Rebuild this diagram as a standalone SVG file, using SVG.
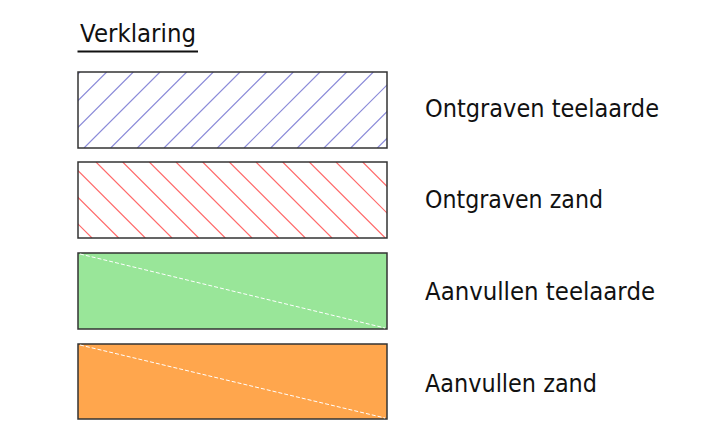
<svg xmlns="http://www.w3.org/2000/svg" width="724" height="446" viewBox="0 0 724 446">
<style>
.box{stroke:#333;stroke-width:1.5}
.lbl{font-family:"DejaVu Sans",sans-serif;font-size:25px;fill:#111}
.diag{stroke:#fff;stroke-width:1;stroke-dasharray:4 2}
</style>
<defs>
<clipPath id="c1"><rect x="78" y="72" width="309" height="76"/></clipPath>
<clipPath id="c2"><rect x="78" y="162" width="309" height="76"/></clipPath>
</defs>
<rect width="724" height="446" fill="#fff"/>
<g id="title">
<text x="80" y="41.7" class="lbl" font-size="23" textLength="116" lengthAdjust="spacingAndGlyphs">Verklaring</text>
<line x1="77.5" y1="51.5" x2="198" y2="51.5" stroke="#111" stroke-width="2"/>
</g>
<g id="ontgraven-teelaarde">
<rect x="78" y="72" width="309" height="76" fill="#fff"/>
<path clip-path="url(#c1)" fill="none" stroke="#8c8cd9" stroke-width="1.2" d="M4 148L80 72M30.7 148L106.7 72M57.3 148L133.3 72M84 148L160 72M110.7 148L186.7 72M137.3 148L213.3 72M164 148L240 72M190.7 148L266.7 72M217.3 148L293.3 72M244 148L320 72M270.7 148L346.7 72M297.3 148L373.3 72M324 148L400 72M350.7 148L426.7 72M377.3 148L453.3 72M404 148L480 72"/>
<rect x="78" y="72" width="309" height="76" fill="none" class="box"/>
<text x="425" y="116.7" class="lbl" textLength="234" lengthAdjust="spacingAndGlyphs">Ontgraven teelaarde</text>
</g>
<g id="ontgraven-zand">
<rect x="78" y="162" width="309" height="76" fill="#fff"/>
<path clip-path="url(#c2)" fill="none" stroke="#ff6b6b" stroke-width="1.2" d="M16 162L92 238M42.7 162L118.7 238M69.3 162L145.3 238M96 162L172 238M122.7 162L198.7 238M149.3 162L225.3 238M176 162L252 238M202.7 162L278.7 238M229.3 162L305.3 238M256 162L332 238M282.7 162L358.7 238M309.3 162L385.3 238M336 162L412 238M362.7 162L438.7 238M389.3 162L465.3 238"/>
<rect x="78" y="162" width="309" height="76" fill="none" class="box"/>
<text x="425" y="208.3" class="lbl" textLength="178" lengthAdjust="spacingAndGlyphs">Ontgraven zand</text>
</g>
<g id="aanvullen-teelaarde">
<rect x="78" y="253" width="309" height="76" fill="#99e699" class="box"/>
<line x1="80" y1="254" x2="385" y2="328" class="diag"/>
<text x="425" y="300" class="lbl" textLength="230" lengthAdjust="spacingAndGlyphs">Aanvullen teelaarde</text>
</g>
<g id="aanvullen-zand">
<rect x="78" y="344" width="309" height="75" fill="#ffa64d" class="box"/>
<line x1="80" y1="345" x2="385" y2="418" class="diag"/>
<text x="425" y="391.7" class="lbl" textLength="172" lengthAdjust="spacingAndGlyphs">Aanvullen zand</text>
</g>
<g id="connectors"/>
</svg>
